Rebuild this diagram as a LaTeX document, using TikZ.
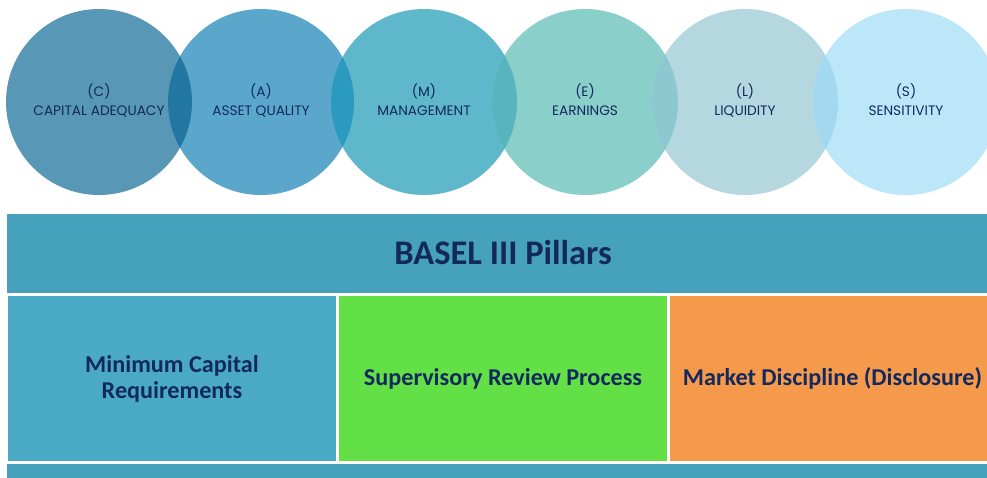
\documentclass[tikz,border=0pt]{standalone}
\usepackage{fontspec}
\setmainfont{Carlito}
\newfontfamily\popfont{Poppins}
\usepackage{tikz}

\definecolor{navy}{HTML}{13295E}
\definecolor{circC}{HTML}{5897B5}
\definecolor{circA}{HTML}{5AA7CB}
\definecolor{circM}{HTML}{5FB7CC}
\definecolor{circE}{HTML}{8BCFCB}
\definecolor{circL}{HTML}{B5D7E0}
\definecolor{circS}{HTML}{BCE7F9}
\definecolor{lapCA}{HTML}{2277A3}
\definecolor{lapAM}{HTML}{2A9ABF}
\definecolor{lapME}{HTML}{58B5BE}
\definecolor{lapEL}{HTML}{8DC7D0}
\definecolor{lapLS}{HTML}{A3D9F0}
\definecolor{bandblue}{HTML}{46A2BC}
\definecolor{pillblue}{HTML}{4AAAC6}
\definecolor{pillgreen}{HTML}{62E046}
\definecolor{pillorange}{HTML}{F49A4A}

\begin{document}
\begin{tikzpicture}[x=1pt, y=-1pt,
    camel/.style={circle, minimum size=186pt, inner sep=0pt, align=center,
      text=navy, font=\popfont\fontsize{13.7}{19}\selectfont},
    pillar/.style={rectangle, inner sep=0pt, minimum height=165pt,
      align=center, text=navy, font=\bfseries\fontsize{24.2}{26}\selectfont}]
  \clip (0,0) rectangle (987,477);
  \fill[white] (0,0) rectangle (987,477);

  % CAMELS circles
  \node[camel, fill=circC] (cap) at (99,102) {(C)\\CAPITAL ADEQUACY\strut};
  \node[camel, fill=circA] (ass) at (261,102) {(A)\\ASSET QUALITY\strut};
  \node[camel, fill=circM] (man) at (424,102) {(M)\\MANAGEMENT\strut};
  \node[camel, fill=circE] (ear) at (585,102) {(E)\\EARNINGS\strut};
  \node[camel, fill=circL] (liq) at (745,102) {(L)\\LIQUIDITY\strut};
  \node[camel, fill=circS] (sen) at (906,102) {(S)\\SENSITIVITY\strut};

  % overlaps
  \begin{scope}
    \clip (cap.center) circle (93pt);
    \fill[lapCA] (ass.center) circle (93pt);
  \end{scope}
  \begin{scope}
    \clip (ass.center) circle (93pt);
    \fill[lapAM] (man.center) circle (93pt);
  \end{scope}
  \begin{scope}
    \clip (man.center) circle (93pt);
    \fill[lapME] (ear.center) circle (93pt);
  \end{scope}
  \begin{scope}
    \clip (ear.center) circle (93pt);
    \fill[lapEL] (liq.center) circle (93pt);
  \end{scope}
  \begin{scope}
    \clip (liq.center) circle (93pt);
    \fill[lapLS] (sen.center) circle (93pt);
  \end{scope}

  % Basel pillars
  \node[rectangle, fill=bandblue, minimum width=988pt, minimum height=79pt,
    inner sep=0pt] (head) at (501,253.5) {};
  \node[text=navy, font=\bfseries\fontsize{34.5}{36}\selectfont] (title)
    at (503,253) {BASEL III Pillars};
  \node[pillar, fill=pillblue, minimum width=328pt] (mcr) at (172,378.5)
    {Minimum Capital\\Requirements};
  \node[pillar, fill=pillgreen, minimum width=328pt] (srp) at (503,378.5)
    {Supervisory Review Process};
  \node[pillar, fill=pillorange, minimum width=325pt] (mdd) at (832.5,378.5)
    {Market Discipline (Disclosure)};
  \node[rectangle, fill=bandblue, minimum width=988pt, minimum height=26pt,
    inner sep=0pt] (foot) at (501,477) {};
\end{tikzpicture}
\end{document}
